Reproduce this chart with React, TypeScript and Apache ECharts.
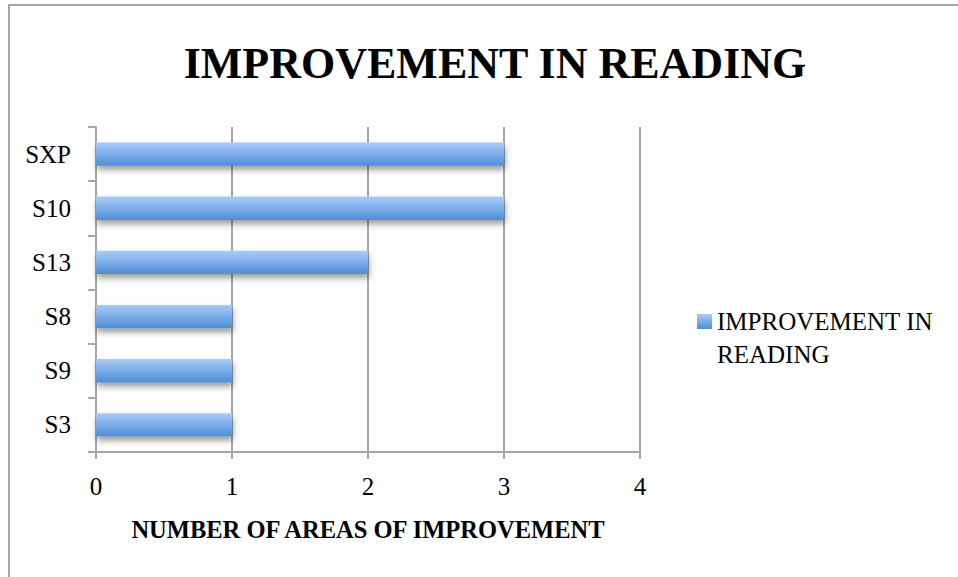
import React, { useEffect, useRef } from "react";
import * as echarts from "echarts";

const categories = ["S3", "S9", "S8", "S13", "S10", "SXP"];
const values = [1, 1, 1, 2, 3, 3];
const xTicks = [0, 1, 2, 3, 4];
const seriesName = "IMPROVEMENT IN READING";
const titleText = "IMPROVEMENT IN READING";
const xAxisName = "NUMBER OF AREAS OF IMPROVEMENT";

const FONT = "'Liberation Serif', 'Times New Roman', serif";

export default function App() {
  const ref = useRef<HTMLDivElement>(null);
  useEffect(() => {
    document.body.style.margin = "0";
    const chart = echarts.init(ref.current!, null, { renderer: "svg" });
    const grad = new echarts.graphic.LinearGradient(0, 0, 0, 1, [
      { offset: 0, color: "#a9cbf8" },
      { offset: 1, color: "#4f8ed7" },
    ]);
    chart.setOption({
      animation: false,
      backgroundColor: "#ffffff",
      title: {
        text: titleText,
        left: 490,
        textAlign: "center",
        top: 36,
        textStyle: { fontFamily: FONT, fontSize: 44, fontWeight: "bold", color: "#000" },
      },
      legend: {
        left: 697,
        top: 272,
        padding: 0,
        icon: "rect",
        itemWidth: 15,
        itemHeight: 15,
        itemGap: 0,
        data: [seriesName],
        formatter: () => "\u00a0\nIMPROVEMENT IN\nREADING",
        itemStyle: { color: grad, shadowBlur: 0, shadowOffsetX: 0, shadowOffsetY: 0 },
        textStyle: {
          fontFamily: FONT,
          fontSize: 25,
          lineHeight: 33,
          color: "#000",
        },
      },
      grid: { left: 96, right: 318, top: 127, bottom: 125 },
      xAxis: {
        type: "value",
        min: 0,
        max: 4,
        interval: 1,
        name: xAxisName,
        nameLocation: "middle",
        nameGap: 65,
        nameTextStyle: { fontFamily: FONT, fontSize: 24.5, fontWeight: "bold", color: "#000" },
        axisLine: { show: true, lineStyle: { color: "#a6a6a6", width: 2 } },
        axisTick: { show: true, length: 7, lineStyle: { color: "#a6a6a6", width: 2 } },
        axisLabel: {
          fontFamily: FONT,
          fontSize: 25,
          color: "#000",
          margin: 22,
          formatter: (v: number) => (xTicks.includes(v) ? String(v) : ""),
        },
        splitLine: { show: true, lineStyle: { color: "#a6a6a6", width: 2 } },
      },
      yAxis: {
        type: "category",
        data: categories,
        axisLine: { show: true, lineStyle: { color: "#a6a6a6", width: 2 } },
        axisTick: { show: true, length: 8, lineStyle: { color: "#a6a6a6", width: 2 } },
        axisLabel: { fontFamily: FONT, fontSize: 25, color: "#000", margin: 25 },
        splitLine: { show: false },
      },
      series: [
        {
          name: seriesName,
          type: "bar",
          data: values,
          barWidth: "43%",
          itemStyle: {
            color: grad,
            shadowColor: "rgba(0,0,0,0.4)",
            shadowBlur: 6,
            shadowOffsetX: 1,
            shadowOffsetY: 4,
          },
        },
      ],
      graphic: [
        {
          type: "rect",
          shape: { x: 9, y: 5, width: 1000, height: 600 },
          style: { fill: "none", stroke: "#a6a6a6", lineWidth: 2 },
          silent: true,
          z: 100,
        },
      ],
    });
    return () => chart.dispose();
  }, []);
  return <div ref={ref} style={{ width: 958, height: 577 }} />;
}
